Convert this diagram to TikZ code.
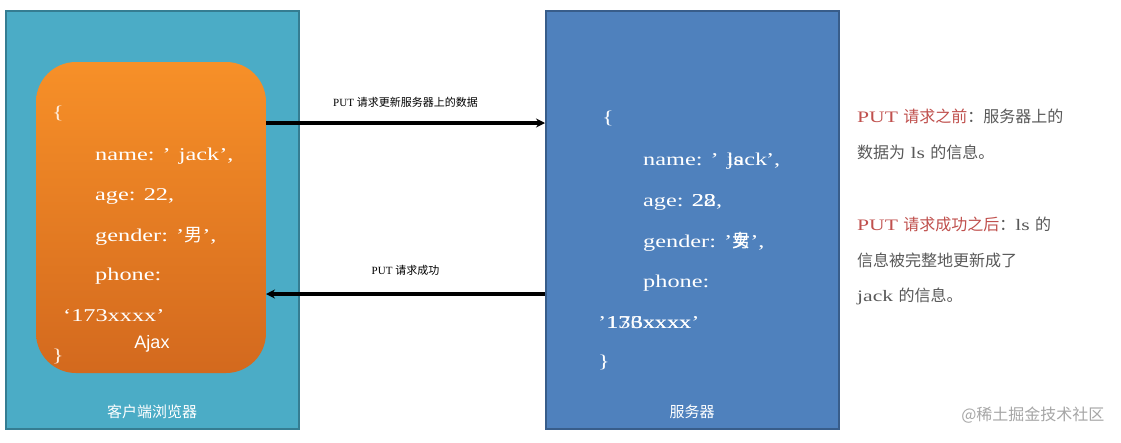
\documentclass[tikz,border=0pt]{standalone}
\usepackage{fontspec}
\setmainfont{Liberation Serif}
\newfontfamily\cjk{Noto Sans CJK SC}
\newfontfamily\codefont[FakeStretch=1.35]{Liberation Serif}
\usetikzlibrary{arrows.meta}
\definecolor{cli}{HTML}{4BACC6}
\definecolor{clib}{HTML}{357D92}
\definecolor{srv}{HTML}{4F81BD}
\definecolor{srvb}{HTML}{385D8A}
\definecolor{orgt}{HTML}{F79028}
\definecolor{orgb}{HTML}{D3691E}
\definecolor{redt}{HTML}{C0504D}
\definecolor{grt}{HTML}{595959}
\tikzset{
 box/.style={draw=#1,line width=1.5pt},
 code/.style={anchor=west,text=white,font=\codefont\fontsize{18}{18}\selectfont,inner sep=0},
 lab/.style={text=white,font=\cjk\fontsize{15}{15}\selectfont},
 arr/.style={line width=3.2pt,-{Stealth[length=9pt,width=9pt]}},
 note/.style={anchor=west,inner sep=0,text=grt,font=\codefont\fontsize{16}{16}\selectfont},
}
\begin{document}
\begin{tikzpicture}[x=1pt,y=-1pt]
\useasboundingbox (0,0) rectangle (1121,442);
\fill[white] (0,0) rectangle (1121,442);
\node[box=clib,fill=cli,minimum width=293,minimum height=418,inner sep=0,anchor=north west] (client) at (5,10) {};
\node[box=srvb,fill=srv,minimum width=293,minimum height=418,inner sep=0,anchor=north west] (server) at (545,10) {};
\shade[top color=orgt,bottom color=orgb,rounded corners=40] (36,62) rectangle (266,373);
\coordinate (ajr1) at (266,123);
\coordinate (ajr2) at (266,294);
\node[lab] (cl) at (152,412) {客户端浏览器};
\node[lab] (sl) at (692,412) {服务器};
% client code
\node[code,text=white!85!orgt] (c0) at (52,113) {\{};
\node[code] (c1) at (95,156) {name: ’ jack’,};
\node[code] (c2) at (95,196) {age: 22,};
\node[code] (c3) at (95,236) {gender: ’{\cjk 男}’,};
\node[code] (c4) at (95,276) {phone:};
\node[code] (c5) at (63,316) {‘173xxxx’};
\node[code,text=white!85!orgt] (c6) at (52,356) {\}};
\node[text=white,font=\fontspec{Liberation Sans}\fontsize{18}{18}\selectfont] (ajax) at (152,344) {Ajax};
% server code
\node[code] (s0) at (602,118) {\{};
\node[code] (s1) at (643,161) {name: ’ \rlap{jack}ls\phantom{ck}’,};
\node[code] (s2) at (643,202) {age: \rlap{22}28,};
\node[code] (s3) at (643,242) {gender: ’{\cjk \rlap{男}女}’,};
\node[code] (s4) at (643,283) {phone:};
\node[code] (s5) at (598,323) {’\rlap{173xxxx}136xxxx’};
\node[code] (s6) at (598,362) {\}};
% arrows
\draw[arr] (ajr1) -- (ajr1-|server.west) node[midway,above=11pt,text=black,font=\fontsize{11}{11}\selectfont] {PUT {\cjk 请求更新服务器上的数据}};
\draw[arr] (ajr2-|server.west) -- (ajr2) node[midway,above=14pt,text=black,font=\fontsize{11}{11}\selectfont] {PUT {\cjk 请求成功}};
% notes
\node[note] (n1) at (857,116) {\textcolor{redt}{PUT {\cjk 请求之前}}{\cjk ：服务器上的}};
\node[note] (n2) at (857,152) {{\cjk 数据为} ls {\cjk 的信息。}};
\node[note] (n3) at (857,224) {\textcolor{redt}{PUT {\cjk 请求成功之后}}{\cjk ：}ls {\cjk 的}};
\node[note] (n4) at (857,260) {{\cjk 信息被完整地更新成了}};
\node[note] (n5) at (857,296) {jack {\cjk 的信息。}};
\node[anchor=east,text=gray!70,font=\cjk\fontsize{16}{16}\selectfont] (wm) at (1108,415) {@稀土掘金技术社区};
\end{tikzpicture}
\end{document}
